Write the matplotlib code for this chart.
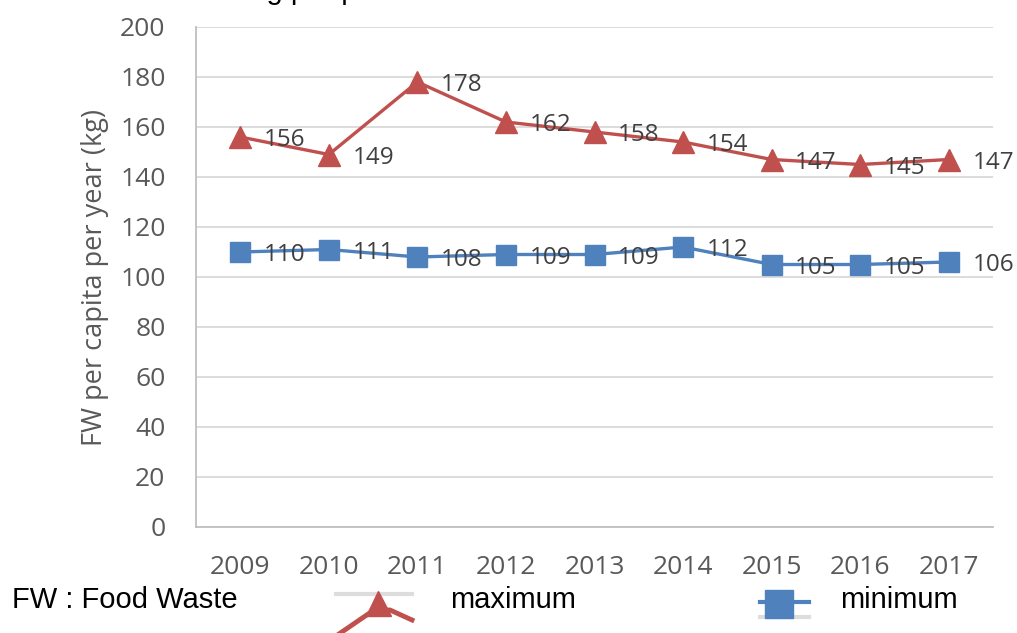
import matplotlib
matplotlib.use("Agg")
import matplotlib.pyplot as plt
from matplotlib.lines import Line2D
import numpy as np

years = ["2009", "2010", "2011", "2012", "2013", "2014", "2015", "2016", "2017"]
maximum = [156, 149, 178, 162, 158, 154, 147, 145, 147]
minimum = [110, 111, 108, 109, 109, 112, 105, 105, 106]
y_ticks = [0, 20, 40, 60, 80, 100, 120, 140, 160, 180, 200]
y_label = "FW per capita per year (kg)"
note = "FW : Food Waste"
legend_names = ["maximum", "minimum"]

RED = "#C0504D"
BLUE = "#4F81BD"
GRID = "#D9D9D9"
TXT = "#595959"

W, H = 1017, 633
fig = plt.figure(figsize=(W / 100, H / 100), dpi=100)
ax = fig.add_axes([196 / W, 1 - 527 / H, (993 - 196) / W, (527 - 27) / H])

x = np.arange(len(years)) + 0.5
ax.plot(x, maximum, color=RED, lw=2.4, marker="^", ms=16, mec=RED, mfc=RED, zorder=3)
ax.plot(x, minimum, color=BLUE, lw=2.4, marker="s", ms=15, mec=BLUE, mfc=BLUE, zorder=3)

font = "Open Sans"
for xi, v in zip(x, maximum):
    ax.annotate(str(v), (xi, v), xytext=(17, -2.5), textcoords="offset points",
                va="center", ha="left", fontsize=17.5, color="#404040", family=font, zorder=4)
for xi, v in zip(x, minimum):
    ax.annotate(str(v), (xi, v), xytext=(17, -2.5), textcoords="offset points",
                va="center", ha="left", fontsize=17.5, color="#404040", family=font, zorder=4)

ax.set_xlim(0, len(years))
ax.set_ylim(0, 200)
ax.set_yticks(y_ticks)
ax.set_yticklabels([str(t) for t in y_ticks], family=font, fontsize=19, color=TXT)
ax.set_xticks(x)
ax.set_xticklabels(years, family=font, fontsize=19, color=TXT)
ax.tick_params(axis="y", length=0, pad=22)
ax.tick_params(axis="x", length=0, pad=20)
ax.grid(axis="y", color=GRID, lw=1.3)
ax.set_axisbelow(True)
for s in ["top", "right"]:
    ax.spines[s].set_visible(False)
ax.spines["left"].set_color("#BFBFBF")
ax.spines["left"].set_linewidth(1.3)
ax.spines["bottom"].set_color("#BFBFBF")
ax.spines["bottom"].set_linewidth(1.3)
ax.set_ylabel(y_label, family=font, fontsize=19.5, color=TXT, labelpad=8)

# cropped title remnant at the top edge (only descenders visible in the reference)
fig.text(252 / W, 1 + 1 / H, "kg per person", family="Liberation Sans", fontsize=21,
         color="black", ha="left", va="baseline")

# bottom note and legend
fig.text(12 / W, 1 - 600 / H, note, family="Liberation Sans", fontsize=21, color="black",
         ha="left", va="center")
fig.text(450 / W, 1 - 600 / H, legend_names[0], family="Liberation Sans", fontsize=21,
         color="black", ha="left", va="center")
fig.text(840 / W, 1 - 600 / H, legend_names[1], family="Liberation Sans", fontsize=21,
         color="black", ha="left", va="center")

def fx(px):
    return px / W

def fy(py):
    return 1 - py / H

fig.add_artist(Line2D([fx(336), fx(412)], [fy(594), fy(594)], color="#DDDDDD", lw=3))
fig.add_artist(Line2D([fx(336), fx(374), fx(390), fx(412)], [fy(636), fy(610), fy(610), fy(620)],
                      color=RED, lw=3.5, solid_joinstyle="miter"))
fig.add_artist(Line2D([fx(378)], [fy(603)], marker="^", ms=18, color=RED, lw=0))
fig.add_artist(Line2D([fx(760), fx(809)], [fy(617), fy(617)], color="#DDDDDD", lw=3))
fig.add_artist(Line2D([fx(760), fx(809)], [fy(602), fy(602)], color=BLUE, lw=3))
fig.add_artist(Line2D([fx(779)], [fy(604)], marker="s", ms=20, color=BLUE, lw=0))

fig.savefig("out.png", dpi=100)
